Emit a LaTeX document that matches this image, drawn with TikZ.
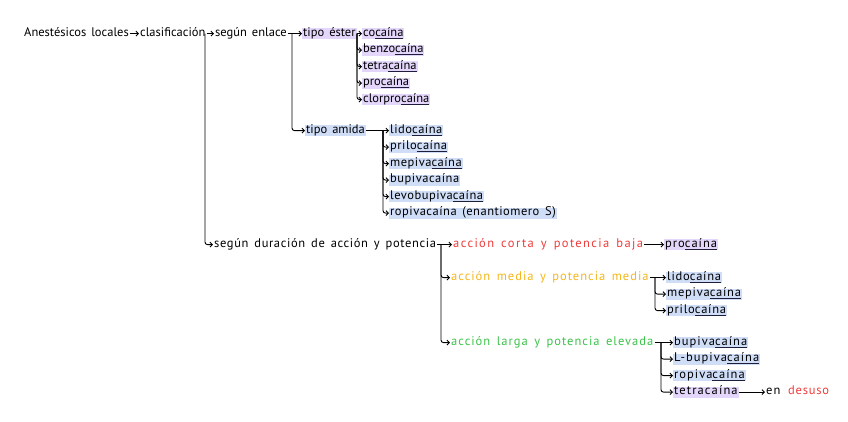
\documentclass[tikz,border=0pt]{standalone}
\usepackage{fontspec}
\setmainfont[WordSpace=1.5]{PT Sans}
\usetikzlibrary{arrows.meta,positioning}

\definecolor{hlester}{HTML}{E3D6FA}
\definecolor{hlamida}{HTML}{CFDDF7}
\definecolor{rojo}{HTML}{F03A3A}
\definecolor{ambar}{HTML}{F4B61A}
\definecolor{verde}{HTML}{3CC24A}
\definecolor{tinta}{HTML}{1E1E3A}

% underlined ending of the drug names
\newcommand{\caina}{\setbox0\hbox{caína}\rlap{\color{tinta}\rule[-2.6pt]{\wd0}{1pt}}\box0}

\tikzset{
  txt/.style={anchor=base west, inner xsep=1pt, inner ysep=1pt,
    text height=7pt, text depth=2.2pt, font=\fontsize{12.5}{15}\selectfont},
  ancho/.style={font=\fontsize{12.5}{15}\selectfont\addfontfeature{LetterSpace=#1}},
  ester/.style={txt, fill=hlester},
  amida/.style={txt, fill=hlamida},
  tip/.style={-{Straight Barb[length=2.4pt,width=5pt]}, line width=0.9pt},
  rama/.style={tip, rounded corners=2.5pt}
}

\begin{document}
\begin{tikzpicture}[x=1pt,y=-1pt]
\useasboundingbox (0,0) rectangle (848,421);
% root
\node[txt] (ane) at (23,36) {Anestésicos locales};
\node[txt] (clas) at (139,36) {clasificación};
\node[txt] (enl) at (214,36) {según enlace};
\node[txt,ancho=5] (dur) at (213,247) {según duración de acción y potencia};
\coordinate (kclas) at ([xshift=-9pt]enl.west);
\draw[tip] (ane) -- (clas);
\draw[tip] (clas) -- (enl);
\draw[rama] (kclas) |- (dur);

% según enlace
\node[ester] (est) at (302,36) {tipo éster};
\node[amida] (ami) at (305,133) {tipo amida};
\coordinate (kenl) at ([xshift=-10pt]est.west);
\draw[tip] (enl) -- (est);
\draw[rama] (kenl) |- (ami);

% tipo ester
\node[ester] (coc) at (362,36) {co\caina};
\node[ester] (ben) at (362,52.5) {benzo\caina};
\node[ester] (tet) at (362,69) {tetra\caina};
\node[ester] (pro) at (362,85.5) {pro\caina};
\node[ester] (clo) at (362,102) {clorpro\caina};
\coordinate (kest) at ([xshift=-5pt]coc.west);
\draw[tip] (est) -- (coc);
\foreach \n in {ben,tet,pro,clo}
  \draw[rama] (kest) |- (\n);

% tipo amida
\node[amida,ancho=4] (lid) at (389,133) {lido\caina};
\node[amida,ancho=4] (pri) at (389,149.5) {prilo\caina};
\node[amida,ancho=4] (mep) at (389,166) {mepiva\caina};
\node[amida,ancho=4] (bup) at (389,182.5) {bupivacaína};
\node[amida,ancho=4] (lev) at (389,199) {levobupiva\caina};
\node[amida,ancho=4] (rop) at (389,215.5) {ropivacaína (enantiomero S)};
\coordinate (kami) at ([xshift=-6pt]lid.west);
\draw[tip] (ami) -- (lid);
\foreach \n in {pri,mep,bup,lev,rop}
  \draw[rama] (kami) |- (\n);

% duracion y potencia
\node[txt,ancho=11,text=rojo] (cor) at (452,247) {acción corta y potencia baja};
\node[txt,ancho=8,text=ambar] (med) at (450,280) {acción media y potencia media};
\node[txt,ancho=8,text=verde] (lar) at (450,345) {acción larga y potencia elevada};
\coordinate (kdur) at ([xshift=-11pt]cor.west);
\draw[tip] (dur) -- (cor);
\draw[rama] (kdur) |- (med);
\draw[rama] (kdur) |- (lar);

% accion corta
\node[ester,ancho=8] (pro2) at (664,247) {pro\caina};
\draw[tip] (cor) -- (pro2);

% accion media
\node[amida,ancho=6] (lid2) at (666,280) {lido\caina};
\node[amida,ancho=6] (mep2) at (666,296.5) {mepiva\caina};
\node[amida,ancho=6] (pri2) at (666,313) {prilo\caina};
\coordinate (kmed) at ([xshift=-11pt]lid2.west);
\draw[tip] (med) -- (lid2);
\foreach \n in {mep2,pri2}
  \draw[rama] (kmed) |- (\n);

% accion larga
\node[amida,ancho=8] (bup2) at (673,345) {bupiva\caina};
\node[amida,ancho=8] (lbu2) at (673,361.5) {L-bupiva\caina};
\node[amida,ancho=8] (rop2) at (673,378) {ropiva\caina};
\node[ester,ancho=9] (tet2) at (673,394.5) {tetracaína};
\coordinate (klar) at ([xshift=-12pt]bup2.west);
\draw[tip] (lar) -- (bup2);
\foreach \n in {lbu2,rop2,tet2}
  \draw[rama] (klar) |- (\n);
\node[txt,ancho=8] (en) at (765,394.5) {en};
\node[txt,ancho=6,text=rojo] (des) at (787,394.5) {desuso};
\draw[tip] (tet2) -- (en);
\end{tikzpicture}
\end{document}
